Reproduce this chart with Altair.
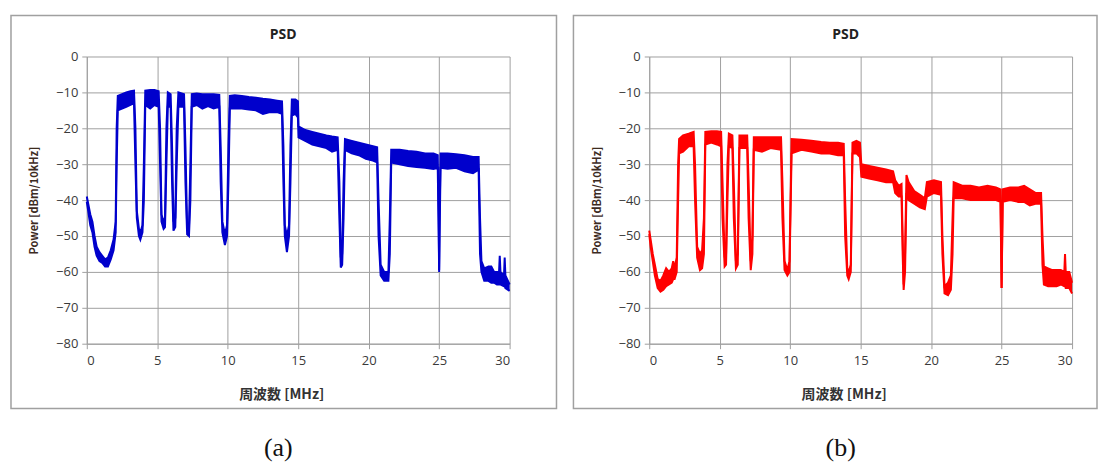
import altair as alt
import pandas as pd

# ---------------- data ----------------
X_TICKS = [0, 5, 10, 15, 20, 25, 30]
Y_TICKS = [0, -10, -20, -30, -40, -50, -60, -70, -80]

# panel (a) – blue trace: frequency [MHz], upper / lower edge of the noise band [dBm/10kHz]
FREQ_A = [0.00, 0.10, 0.25, 0.40, 0.55, 0.70, 0.90, 1.10, 1.30, 1.50,
          1.70, 1.90, 2.05, 2.12, 2.20, 2.50, 2.80, 3.10, 3.35, 3.45,
          3.55, 3.70, 3.80, 3.95, 4.05, 4.15, 4.50, 4.80, 5.10, 5.20,
          5.30, 5.45, 5.55, 5.65, 5.75, 5.95, 6.05, 6.15, 6.28, 6.38,
          6.50, 6.90, 7.00, 7.12, 7.25, 7.35, 7.45, 7.80, 8.20, 8.60,
          9.00, 9.40, 9.50, 9.62, 9.80, 9.95, 10.05, 10.15, 10.50, 11.00,
          11.50, 12.00, 12.50, 13.00, 13.50, 13.85, 13.95, 14.05, 14.20, 14.35,
          14.45, 14.55, 14.80, 14.98, 15.02, 15.50, 16.00, 16.50, 17.00, 17.40,
          17.80, 17.92, 18.02, 18.12, 18.22, 18.32, 18.80, 19.30, 19.80, 20.30,
          20.60, 20.70, 20.85, 21.10, 21.40, 21.50, 21.60, 22.20, 22.80, 23.40,
          24.00, 24.60, 24.90, 24.97, 25.00, 25.03, 25.10, 25.60, 26.20, 26.80,
          27.40, 27.80, 27.90, 28.00, 28.20, 28.50, 28.70, 28.90, 29.10, 29.25,
          29.30, 29.35, 29.60, 29.65, 29.70, 30.00]
UPPER_A = [-39.0, -41.0, -44.0, -46.0, -50.0, -53.0, -54.5, -55.5, -56.5, -56.0,
           -54.0, -51.0, -46.0, -20.0, -11.0, -10.5, -10.0, -9.7, -9.5, -20.0,
           -43.0, -48.0, -49.0, -47.0, -30.0, -9.5, -9.3, -9.3, -9.7, -20.0,
           -44.0, -46.0, -45.0, -20.0, -10.0, -10.5, -25.0, -46.0, -45.0, -20.0,
           -10.0, -10.5, -25.0, -47.5, -47.5, -30.0, -10.5, -10.3, -10.5, -10.5,
           -10.5, -10.7, -25.0, -46.0, -49.5, -47.0, -25.0, -11.0, -10.8, -11.0,
           -11.3, -11.5, -11.8, -12.0, -12.3, -12.5, -25.0, -47.0, -50.0, -47.0,
           -25.0, -12.0, -12.0, -12.5, -19.5, -20.5, -21.0, -21.5, -22.0, -22.3,
           -22.5, -35.0, -56.0, -55.0, -35.0, -23.0, -23.5, -24.0, -24.5, -25.0,
           -25.3, -40.0, -58.0, -60.0, -60.0, -45.0, -26.0, -26.0, -26.3, -26.5,
           -27.0, -27.0, -27.5, -45.0, -59.5, -45.0, -27.0, -27.0, -27.2, -27.5,
           -28.0, -28.0, -45.0, -57.0, -59.0, -58.5, -58.5, -60.0, -60.0, -60.0,
           -55.5, -60.0, -61.0, -56.0, -61.0, -63.5]
LOWER_A = [-40.5, -43.0, -47.0, -49.0, -53.0, -55.5, -57.0, -57.5, -58.5, -58.5,
           -56.5, -54.0, -49.0, -30.0, -15.0, -14.5, -14.0, -13.5, -13.0, -30.0,
           -45.0, -50.0, -51.0, -49.0, -40.0, -13.5, -14.5, -13.5, -14.0, -30.0,
           -46.0, -48.0, -47.5, -30.0, -14.0, -14.0, -35.0, -48.5, -47.5, -30.0,
           -14.0, -14.0, -35.0, -49.5, -50.0, -40.0, -14.0, -13.5, -14.5, -13.8,
           -14.5, -14.0, -35.0, -49.0, -52.5, -50.0, -35.0, -14.5, -14.5, -14.5,
           -14.8, -15.0, -16.0, -15.5, -15.5, -16.0, -35.0, -50.0, -54.5, -50.0,
           -35.0, -16.5, -16.0, -17.0, -22.5, -23.5, -24.5, -25.0, -25.5, -26.5,
           -26.0, -45.0, -58.8, -58.0, -45.0, -26.0, -27.0, -27.5, -28.5, -29.0,
           -29.5, -50.0, -61.0, -62.5, -62.5, -55.0, -29.5, -30.0, -30.5, -30.8,
           -31.0, -31.3, -31.0, -50.0, -60.0, -50.0, -31.0, -31.3, -31.0, -32.0,
           -32.5, -31.5, -55.0, -60.0, -62.5, -62.5, -63.0, -63.0, -63.5, -63.5,
           -63.0, -63.5, -64.0, -64.0, -64.5, -65.3]

# panel (b) – red trace
FREQ_B = [0.00, 0.10, 0.25, 0.40, 0.60, 0.80, 1.00, 1.20, 1.40, 1.60,
          1.70, 1.80, 1.95, 2.05, 2.12, 2.40, 2.80, 3.15, 3.25, 3.40,
          3.60, 3.75, 3.88, 3.98, 4.40, 4.80, 5.10, 5.20, 5.35, 5.45,
          5.55, 5.65, 5.90, 6.00, 6.15, 6.28, 6.40, 6.95, 7.05, 7.20,
          7.32, 7.42, 8.00, 8.60, 9.35, 9.45, 9.60, 9.80, 9.95, 10.10,
          10.80, 11.50, 12.20, 12.80, 13.40, 13.80, 13.90, 14.05, 14.15, 14.30,
          14.42, 14.70, 14.95, 15.05, 15.60, 16.20, 16.80, 17.30, 17.45, 17.70,
          17.90, 17.98, 18.05, 18.15, 18.25, 18.40, 18.80, 19.20, 19.55, 19.70,
          20.20, 20.70, 20.80, 20.95, 21.20, 21.40, 21.52, 21.60, 22.20, 22.80,
          23.40, 24.00, 24.60, 24.92, 25.00, 25.08, 25.60, 26.20, 26.60, 27.00,
          27.40, 27.80, 27.90, 28.00, 28.30, 28.60, 28.90, 29.20, 29.45, 29.50,
          29.55, 29.80, 30.00]
UPPER_B = [-48.5, -51.0, -55.0, -58.0, -62.0, -62.5, -61.0, -59.0, -60.0, -59.0,
           -57.0, -59.0, -56.0, -30.0, -23.0, -22.0, -21.5, -21.0, -30.0, -53.0,
           -55.0, -54.0, -45.0, -21.0, -20.8, -20.8, -21.0, -35.0, -56.0, -55.0,
           -30.0, -21.5, -22.0, -35.0, -57.0, -55.0, -22.0, -22.0, -35.0, -57.0,
           -50.0, -22.5, -22.5, -22.5, -22.5, -35.0, -57.0, -59.5, -57.0, -23.0,
           -23.2, -23.5, -23.8, -24.0, -24.0, -24.3, -40.0, -59.0, -60.0, -58.0,
           -24.0, -23.5, -24.0, -30.0, -30.5, -31.0, -31.5, -32.0, -34.5, -36.0,
           -35.5, -50.0, -63.5, -55.0, -33.0, -35.0, -37.5, -38.5, -39.5, -35.0,
           -34.5, -35.0, -50.0, -64.0, -63.0, -61.0, -45.0, -35.0, -36.0, -36.0,
           -36.5, -36.0, -36.5, -37.0, -64.5, -37.0, -36.5, -36.5, -36.0, -37.0,
           -38.0, -38.0, -50.0, -58.5, -59.0, -59.5, -59.5, -59.5, -60.0, -55.0,
           -60.0, -60.0, -63.0]
LOWER_B = [-49.5, -53.0, -57.0, -61.0, -64.5, -65.5, -65.0, -64.0, -63.5, -63.0,
           -62.0, -62.0, -60.0, -40.0, -27.0, -26.5, -25.0, -25.0, -40.0, -56.0,
           -59.5, -59.0, -55.0, -24.5, -24.0, -24.5, -25.0, -45.0, -58.5, -58.0,
           -40.0, -25.0, -25.5, -45.0, -59.0, -58.0, -25.5, -25.5, -45.0, -59.5,
           -55.0, -26.0, -26.5, -25.5, -26.0, -45.0, -59.5, -61.0, -60.0, -27.0,
           -26.0, -26.5, -27.0, -27.0, -27.5, -27.5, -50.0, -61.0, -62.0, -60.0,
           -27.0, -27.0, -28.0, -33.5, -34.0, -34.5, -35.0, -35.0, -38.0, -39.0,
           -39.0, -55.0, -65.0, -60.0, -38.0, -40.0, -41.0, -42.0, -42.5, -39.0,
           -38.0, -38.5, -55.0, -66.0, -66.5, -65.0, -55.0, -39.5, -39.5, -40.0,
           -40.0, -40.0, -40.0, -40.5, -64.5, -40.5, -40.0, -40.5, -40.5, -41.5,
           -41.0, -41.0, -58.0, -63.5, -64.0, -64.0, -64.0, -63.5, -64.0, -63.0,
           -64.5, -64.5, -66.0]

GRID = "#a0a0a0"
PLOT_W = 424
PLOT_H = 288


def panel(freq, hi, lo, color, label, box_right):
    df = pd.DataFrame({"f": freq, "hi": hi, "lo": lo})
    one = pd.DataFrame({"k": [0]})

    x_enc = alt.X(
        "f:Q",
        scale=alt.Scale(domain=[0, 30], nice=False, zero=False),
        axis=alt.Axis(values=X_TICKS, title="周波数 [MHz]", titleX=195, titleY=44),
    )

    def y_enc(field):
        return alt.Y(
            field + ":Q",
            scale=alt.Scale(domain=[-80, 0], nice=False, zero=False),
            axis=alt.Axis(values=Y_TICKS, title="Power [dBm/10kHz]", titleX=-47),
        )

    band = alt.Chart(df).mark_area(color=color, opacity=1).encode(
        x=x_enc, y=y_enc("hi"), y2="lo:Q"
    )
    line_hi = alt.Chart(df).mark_line(color=color, strokeWidth=2).encode(
        x=x_enc, y=y_enc("hi")
    )
    line_lo = alt.Chart(df).mark_line(color=color, strokeWidth=2).encode(
        x=x_enc, y=y_enc("lo")
    )
    box = alt.Chart(one).mark_rect(
        fillOpacity=0, stroke="#a0a0a0", strokeWidth=1.5
    ).encode(
        x=alt.value(-76), x2=alt.value(box_right), y=alt.value(-41), y2=alt.value(353)
    )
    title = alt.Chart(one).mark_text(
        text="PSD", font="Open Sans", fontSize=14, fontWeight="bold", color="#222222"
    ).encode(x=alt.value(197), y=alt.value(-22))
    sub = alt.Chart(one).mark_text(
        text=label, font="Liberation Serif", fontSize=26, color="#111111"
    ).encode(x=alt.value(192), y=alt.value(393))

    return alt.layer(box, band, line_hi, line_lo, title, sub).properties(
        width=PLOT_W, height=PLOT_H
    )


pa = panel(FREQ_A, UPPER_A, LOWER_A, "#0000cc", "(a)", 471)
pb = panel(FREQ_B, UPPER_B, LOWER_B, "#ff0000", "(b)", 449)

chart = (
    alt.hconcat(pa, pb, spacing=15)
    .properties(padding={"left": 2, "top": 6, "right": 0, "bottom": 0})
    .configure_view(strokeWidth=0)
    .configure_axis(
        gridColor=GRID,
        gridWidth=1,
        domainColor=GRID,
        tickColor=GRID,
        tickSize=5,
        labelFont="Open Sans",
        labelFontSize=13,
        labelColor="#3a3a3a",
        labelPadding=4,
        titleFont="Noto Sans CJK JP",
        titleFontWeight="bold",
        titleColor="#333333",
    )
    .configure_axisX(titleFontSize=14, labelPadding=6)
    .configure_axisY(titleFontSize=11, titleColor="#3d2b1f")
)

chart.save("out.html", embed_options={"renderer": "svg", "actions": False})
